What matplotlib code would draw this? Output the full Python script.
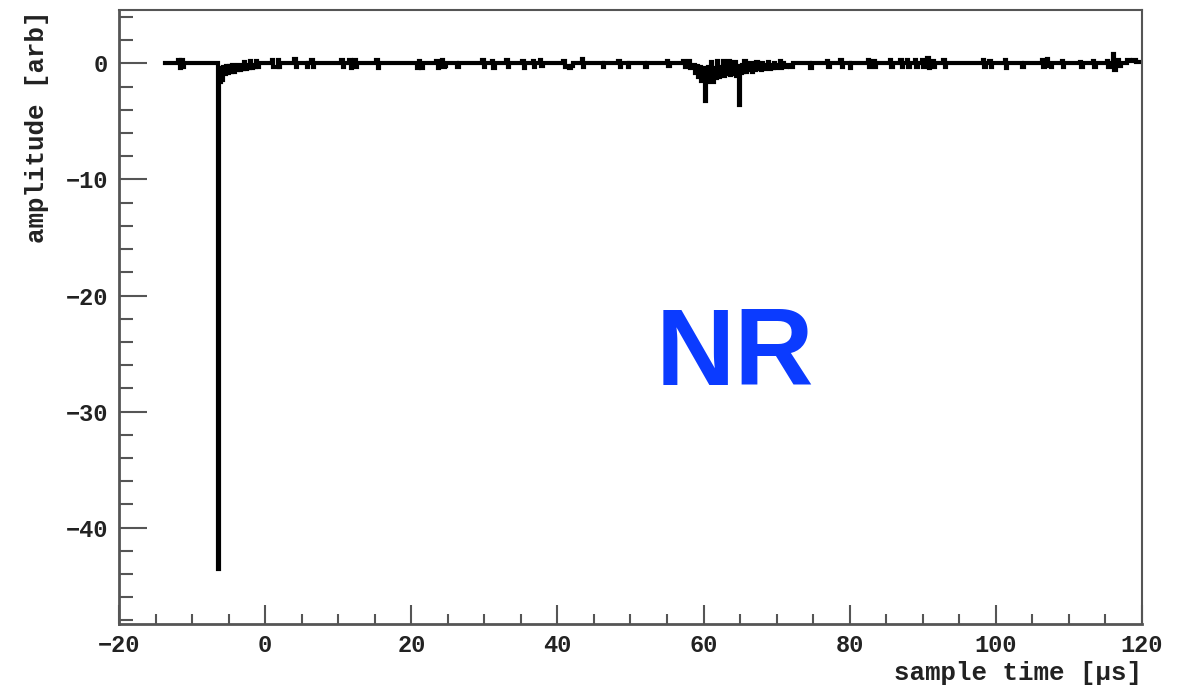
import matplotlib
matplotlib.use("Agg")
import matplotlib.pyplot as plt
from matplotlib.ticker import MultipleLocator

# Digitised waveform, split by stretch of the record (time in us, amplitude in arb)
time_pre = [-13.7, -11.9, -11.7, -11.5, -11.3, -11.1, -6.5,
            -6.3, -6.1, -5.9, -5.7, -5.5, -5.3, -5.1, -4.9, -4.7, -4.5,
            -4.3, -4.1, -3.9, -3.7, -3.5, -3.3, -3.1, -2.9, -2.7, -2.5,
            -2.3, -2.1, -1.9, -1.7, -1.5, -1.3, -1.1, -0.9,
            0.9, 1.1, 1.7, 1.9, 2.1, 4.0, 4.2, 4.4, 5.7, 5.9,
            6.3, 6.5, 6.7, 10.4, 10.6, 10.8]
amp_pre = [0.0, 0.3, -0.4, 0.3, -0.3, 0.0, -43.6,
           -1.6, -0.4, -1.4, -0.3, -0.9, -0.2, -0.8, -0.2, -0.7, -0.1,
           -0.7, -0.2, -0.6, -0.1, -0.6, -0.2, -0.5, 0.1, -0.5, -0.1,
           -0.4, 0.2, -0.4, -0.1, -0.3, 0.2, -0.3, 0.0,
           0.3, -0.3, 0.3, -0.3, 0.0, 0.4, -0.3, 0.0, -0.3, 0.0,
           0.3, -0.3, 0.0, 0.3, -0.3, 0.0]

time_mid = [11.5, 11.7, 11.9, 12.2, 12.4, 12.6, 15.2, 15.4, 15.6, 20.8,
            21.0, 21.2, 21.4, 21.6, 23.4, 23.6, 23.8, 24.2, 24.4, 24.6,
            24.8, 26.3, 26.5, 29.7, 29.9, 30.1, 31.0, 31.2, 31.4, 33.0,
            33.2, 33.4, 35.2, 35.4, 35.6, 36.6, 36.8, 37.0, 37.6, 37.8, 38.0,
            40.8, 41.0, 41.3, 41.6, 41.9, 42.1, 43.3, 43.5, 43.7, 46.2,
            46.4, 48.3, 48.5, 48.7, 49.6, 49.8, 52.0, 52.2, 55.0, 55.2,
            55.4, 57.2, 57.4, 57.6, 58.0, 58.2]
amp_mid = [0.3, -0.4, 0.0, 0.3, -0.3, 0.0, 0.3, -0.4, 0.0, -0.4,
           0.2, -0.3, -0.4, 0.0, 0.2, -0.4, 0.0, 0.3, -0.3, -0.2,
           0.0, -0.3, 0.0, 0.3, -0.3, 0.0, 0.2, -0.4, 0.0, 0.3,
           -0.3, 0.0, 0.2, -0.4, 0.0, 0.2, -0.3, 0.0, 0.3, -0.2, 0.0,
           0.2, -0.3, -0.2, -0.4, -0.2, 0.0, 0.4, -0.3, 0.0, -0.3,
           0.0, 0.2, -0.3, 0.0, -0.3, 0.0, -0.3, 0.0, 0.2, -0.2,
           0.0, 0.2, -0.3, 0.0, 0.2, -0.4]

time_event = [58.4, 58.6, 58.8, 59.0, 59.2, 59.4, 59.6, 59.8, 60.0, 60.2,
              60.4, 60.6, 60.8, 61.0, 61.2, 61.4, 61.6, 61.8, 62.0, 62.2,
              62.4, 62.6, 62.8, 63.0, 63.2, 63.4, 63.6, 63.8, 64.0, 64.2,
              64.4, 64.6, 64.8, 65.0, 65.2, 65.4, 65.6, 65.8, 66.0, 66.2,
              66.4, 66.6, 66.8, 67.0, 67.2, 67.4, 67.6, 67.8, 68.0, 68.2,
              68.4, 68.6, 68.8, 69.0, 69.2, 69.4, 69.6, 69.8, 70.0, 70.2,
              70.4, 70.6, 70.8, 71.0, 71.4, 71.8, 72.2, 74.6, 74.8]
amp_event = [-0.4, -0.1, -0.8, -0.2, -1.2, -0.3, -1.5, -0.4, -1.4, -3.2,
             -1.6, -0.3, -1.5, 0.1, -1.6, -0.4, -1.3, 0.2, -1.2, -0.3,
             -1.0, 0.2, -1.1, -0.2, -0.9, 0.2, -1.0, -0.1, -0.9, 0.1,
             -1.1, -0.2, -3.6, -0.8, -0.1, -0.7, 0.2, -0.7, -0.1, -0.6,
             0.0, -0.7, -0.1, -0.6, 0.1, -0.5, -0.1, -0.6, 0.0, -0.5,
             -0.1, -0.4, 0.1, -0.5, -0.1, -0.4, 0.0, -0.4, -0.1, -0.3,
             0.2, -0.4, 0.0, -0.3, -0.1, -0.3, 0.0, -0.4, 0.0]

time_late = [76.9, 77.1, 77.3, 78.7, 78.9, 79.1, 80.0, 80.2, 82.5, 82.7,
             82.9, 83.2, 83.4, 83.6, 85.5, 85.7, 85.9, 86.9, 87.1, 87.3,
             87.8, 88.0, 88.2, 88.9, 89.1, 89.3, 89.9, 90.1, 90.3, 90.6,
             90.8, 91.0, 91.3, 91.5, 91.7, 92.8, 93.0, 93.2,
             98.2, 98.4, 98.6, 99.1, 99.3, 99.5, 101.2, 101.4, 101.6, 103.6,
             103.8, 106.3, 106.5, 106.7, 107.0, 107.2, 107.5, 107.7, 109.0, 109.2,
             109.4, 111.5, 111.7, 111.9, 113.3, 113.5, 113.7, 115.2, 115.4, 115.6,
             116.0, 116.2, 116.4, 116.7, 116.9, 117.1, 117.9, 118.3, 118.8, 119.2,
             120.0]
amp_late = [0.2, -0.3, 0.0, 0.3, -0.3, 0.0, -0.4, 0.0, 0.3, -0.3,
            0.0, 0.2, -0.3, 0.0, 0.3, -0.3, 0.0, 0.3, -0.3, 0.0,
            0.3, -0.3, 0.0, 0.3, -0.3, 0.0, 0.3, -0.3, 0.0, 0.5,
            -0.4, 0.0, 0.2, -0.3, 0.0, 0.3, -0.3, 0.0,
            0.3, -0.3, 0.0, 0.2, -0.3, 0.0, 0.3, -0.4, 0.0, -0.3,
            0.0, 0.3, -0.3, 0.0, 0.4, -0.2, -0.3, 0.0, 0.2, -0.3,
            0.0, 0.1, -0.3, 0.0, 0.2, -0.3, 0.0, 0.2, -0.3, 0.0,
            0.8, -0.6, 0.0, 0.3, -0.2, 0.0, 0.3, 0.2, 0.3, 0.1,
            0.1]

x_ticks = [-20, 0, 20, 40, 60, 80, 100, 120]
y_ticks = [-40, -30, -20, -10, 0]
x_label = "sample time [\u03bcs]"
y_label = "amplitude [arb]"
tag_text = "NR"

sample_time = time_pre + time_mid + time_event + time_late
amplitude = amp_pre + amp_mid + amp_event + amp_late
assert len(sample_time) == len(amplitude)

mono = "Liberation Mono"
frame_col = "#555555"
text_col = "#222222"

fig = plt.figure(figsize=(11.96, 6.90), dpi=100)
ax = fig.add_axes([0.0995, 0.0957, 0.8553, 0.8898])

ax.plot(sample_time, amplitude, color="black", lw=3.0,
        drawstyle="steps-post", solid_joinstyle="miter")

ax.set_xlim(-20, 120)
ax.set_ylim(-48.3, 4.6)

ax.xaxis.set_minor_locator(MultipleLocator(5))
ax.yaxis.set_minor_locator(MultipleLocator(2))
ax.set_xticks(x_ticks)
ax.set_yticks(y_ticks)

ax.tick_params(which="both", direction="in", top=False, right=False,
               color=frame_col, width=1.5)
ax.tick_params(axis="x", which="major", length=14, pad=7)
ax.tick_params(axis="x", which="minor", length=7)
ax.tick_params(axis="y", which="major", length=20, pad=8)
ax.tick_params(axis="y", which="minor", length=10)

for lab in ax.get_xticklabels() + ax.get_yticklabels():
    lab.set_fontfamily(mono)
    lab.set_fontweight("bold")
    lab.set_fontsize(17)
    lab.set_color(text_col)

for side, sp in ax.spines.items():
    sp.set_color(frame_col)
    sp.set_linewidth(2.0 if side in ("left", "bottom") else 1.5)

ax.set_xlabel(x_label, fontfamily=mono, fontweight="bold", fontsize=18.5,
              color=text_col, loc="right", labelpad=3)
ax.set_ylabel(y_label, fontfamily=mono, fontweight="bold", fontsize=18.5,
              color=text_col, loc="top", labelpad=12)

ax.text(0.602, 0.389, tag_text, transform=ax.transAxes, ha="center",
        va="baseline", fontsize=79, fontweight="bold",
        fontfamily="Liberation Sans", color="#0b3bff")

fig.savefig("out.png", dpi=100, facecolor="white")
